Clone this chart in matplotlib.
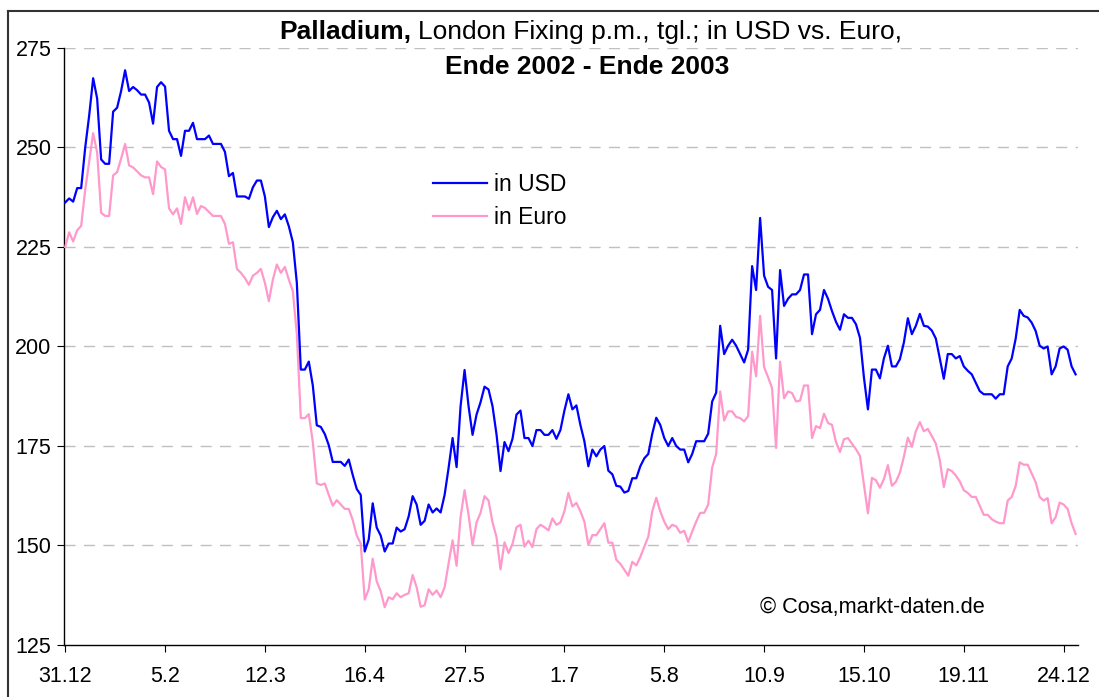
import matplotlib
matplotlib.use("Agg")
import matplotlib.pyplot as plt
from matplotlib.lines import Line2D

plt.rcParams['font.family'] = ['Liberation Sans', 'DejaVu Sans']

# Palladium, London Fixing p.m., taeglich (Ende 2002 - Ende 2003)
usd = [236.2, 237.2, 236.4, 239.8, 239.8, 249.9, 258.0, 267.4, 262.3, 247.0,
       245.9, 245.9, 259.0, 260.0, 264.2, 269.4, 264.2, 265.2, 264.4, 263.3,
       263.3, 261.3, 256.0, 265.2, 266.4, 265.3, 254.2, 252.1, 252.1, 247.9,
       254.2, 254.2, 256.2, 252.1, 252.1, 252.1, 253.0, 250.9, 250.9, 250.9,
       248.9, 242.8, 243.6,
       237.7, 237.7, 237.7, 237.1, 240.0, 241.7, 241.7, 237.7, 230.0, 232.5,
       234.1, 232.0, 233.2, 230.2, 226.2, 216.0, 194.2, 194.2, 196.2, 190.2,
       180.2, 179.8, 178.0, 175.2, 171.0, 171.0, 171.0, 170.0, 171.6, 167.7,
       164.2, 162.7, 148.5, 151.5, 160.6, 154.5, 152.5, 148.5, 150.5, 150.5,
       154.5, 153.5,
       154.1, 157.3, 162.4, 160.3, 155.2, 156.2, 160.3, 158.3, 159.3, 158.3,
       162.7, 169.5, 177.0, 169.7, 185.0, 194.1, 185.0, 177.8, 182.9, 186.0,
       189.9, 189.2, 185.0, 177.9, 168.7, 176.0, 173.7, 176.8, 182.9, 183.9,
       177.0, 177.0, 175.0, 179.0, 179.0, 177.8, 177.8, 179.0, 176.8, 179.0,
       183.9, 188.0, 184.2,
       185.2, 180.3, 176.2, 169.9, 174.1, 172.4, 174.1, 175.0, 168.8, 167.9,
       165.0, 164.8, 163.3, 163.7, 166.9, 166.9, 169.9, 171.9, 173.0, 178.1,
       182.1, 180.3, 177.0, 175.0, 177.0, 175.0, 174.1, 174.1, 170.9, 173.0,
       176.2, 176.2, 176.2, 178.1, 186.2, 188.4,
       205.2, 198.1, 200.2, 201.7, 200.2, 198.1, 196.0, 199.2, 220.2, 214.2,
       232.3, 217.8, 215.0, 214.2, 197.0, 219.2, 210.2, 212.0, 213.1, 213.1,
       214.2, 218.1, 218.1, 203.1, 208.1, 209.2, 214.2, 212.0, 208.9, 206.2,
       204.2, 208.1, 207.2, 207.2, 205.6, 202.2, 192.2, 184.2, 194.2, 194.2,
       192.0, 197.0, 200.2, 195.0, 195.0, 196.8,
       201.0, 207.1, 203.1, 205.2, 208.2, 205.2, 205.0, 204.0, 202.0, 197.0,
       191.9, 198.1, 198.1, 197.0, 197.6, 195.0, 193.9, 193.0, 190.9, 188.8,
       188.0, 188.0, 188.0, 186.9, 188.0, 188.0, 195.0, 197.0, 202.0, 209.2,
       207.7, 207.3, 206.0, 203.9, 200.2, 199.5, 200.0, 193.0, 195.0, 199.5,
       200.0, 199.2, 195.0, 193.0]

euro = [225.0, 228.7, 226.4, 229.2, 230.3, 239.3, 246.4, 253.6, 248.7, 233.6,
        232.8, 232.8, 243.0, 243.8, 247.2, 250.9, 245.5, 245.0, 244.0, 243.0,
        242.5, 242.5, 238.3, 246.5, 245.1, 244.5, 234.7, 233.2, 234.7, 230.8,
        237.5, 234.3, 237.5, 233.3, 235.3, 234.8, 233.8, 232.8, 232.8, 232.8,
        230.8, 225.8, 226.2,
        219.5, 218.5, 217.2, 215.5, 217.8, 218.5, 219.5, 216.0, 211.4, 216.8,
        220.6, 218.5, 220.0, 216.8, 213.9, 203.1, 182.0, 182.0, 183.0, 176.0,
        165.6, 165.2, 165.6, 162.7, 160.0, 161.4, 160.3, 159.2, 159.2, 156.4,
        152.5, 150.5, 136.4, 139.0, 146.7, 141.0, 138.5, 134.5, 137.0, 136.5,
        138.0, 137.0,
        137.6, 138.0, 142.6, 139.5, 134.6, 135.0, 139.0, 137.6, 138.7, 137.0,
        139.5, 145.5, 151.3, 144.9, 157.1, 163.9, 157.7, 150.1, 155.8, 158.2,
        162.4, 161.3, 155.8, 152.1, 144.0, 150.8, 148.1, 150.4, 154.6, 155.2,
        149.7, 151.2, 149.6, 154.1, 155.2, 154.6, 153.8, 156.8, 155.2, 155.8,
        158.6, 163.2, 159.8,
        160.7, 158.6, 156.0, 150.1, 152.6, 152.6, 154.1, 155.6, 150.7, 150.7,
        146.4, 145.4, 143.9, 142.4, 145.9, 145.0, 147.1, 149.7, 152.2, 158.6,
        162.0, 158.6, 156.0, 154.1, 155.2, 154.8, 153.2, 153.7, 150.9, 153.5,
        156.0, 158.2, 158.2, 160.3, 169.6, 173.0,
        188.7, 181.4, 183.7, 183.7, 182.3, 182.0, 181.2, 182.5, 198.7, 192.5,
        207.7, 194.8, 192.3, 189.5, 174.5, 196.2, 187.0, 188.7, 188.3, 186.2,
        186.4, 190.2, 190.2, 177.0, 180.0, 179.5, 183.1, 180.8, 180.3, 176.0,
        173.5, 176.7, 177.0, 175.6, 174.2, 172.5, 165.2, 158.1, 167.0, 166.4,
        164.5, 166.7, 170.2, 165.0, 166.0, 168.3,
        172.3, 177.1, 174.8, 178.7, 181.0, 178.7, 179.3, 177.5, 175.6, 171.4,
        164.7, 169.2, 168.7, 167.6, 166.1, 163.9, 163.2, 162.2, 162.2, 160.0,
        157.7, 157.7, 156.6, 156.0, 155.6, 155.6, 161.3, 162.2, 165.0, 170.9,
        170.3, 170.3, 168.1, 165.9, 162.2, 161.3, 161.9, 155.6, 157.1, 160.8,
        160.3, 159.2, 155.6, 152.9]

tick_labels = ["31.12", "5.2", "12.3", "16.4", "27.5", "1.7", "5.8",
               "10.9", "15.10", "19.11", "24.12"]
y_ticks = [125, 150, 175, 200, 225, 250, 275]

W, H = 1099, 697
fig = plt.figure(figsize=(W / 100, H / 100), dpi=100)
ax = fig.add_axes([64 / W, 1 - 645 / H, (1078 - 64) / W, (645 - 48) / H])

x = list(range(len(usd)))
ax.plot(x, euro, color='#FF99CC', lw=1.6, label='in Euro', zorder=3)
ax.plot(x, usd, color='#0000FF', lw=1.6, label='in USD', zorder=4)

ax.set_xlim(-0.3, len(usd) - 0.4)
ax.set_ylim(125, 275)
ax.set_yticks(y_ticks)
ax.set_xticks(range(0, 25 * len(tick_labels), 25))
ax.set_xticklabels(tick_labels)

for v in y_ticks[1:]:
    ax.axhline(v, color='#C0C0C0', lw=1, ls=(0, (8, 6)), zorder=1)

for s in ['top', 'right']:
    ax.spines[s].set_visible(False)
ax.spines['left'].set_linewidth(1)
ax.spines['bottom'].set_linewidth(1)
ax.tick_params(axis='y', direction='out', length=5, pad=4, labelsize=15.5)
ax.tick_params(axis='x', direction='out', length=5, pad=10, labelsize=15.5)

# Titel
fig.text(411 / W, 1 - 32 / H, "Palladium,", fontsize=19, fontweight='bold',
         ha='right', va='center')
fig.text(418 / W, 1 - 32 / H, "London Fixing p.m., tgl.; in USD vs. Euro,",
         fontsize=19, ha='left', va='center')
fig.text(587 / W, 1 - 67 / H, "Ende 2002 - Ende 2003", fontsize=19,
         fontweight='bold', ha='center', va='center')

handles = [Line2D([], [], color='#0000FF', lw=1.6),
           Line2D([], [], color='#FF99CC', lw=1.6)]
fig.legend(handles, ['in USD', 'in Euro'], loc='upper left',
           bbox_to_anchor=(433 / W, 1 - 173 / H), frameon=False,
           fontsize=16.5, handlelength=2.35, handletextpad=0.3,
           labelspacing=0.45, borderpad=0, borderaxespad=0)

fig.text(760 / W, 1 - 607 / H, "© Cosa,markt-daten.de", fontsize=15.7,
         ha='left', va='center')

# Rahmen oben und links
fig.add_artist(Line2D([8 / W, 1], [1 - 11 / H, 1 - 11 / H], color='#333333', lw=1.5))
fig.add_artist(Line2D([8 / W, 8 / W], [0, 1 - 11 / H], color='#333333', lw=1.5))

fig.savefig("out.png", dpi=100)
